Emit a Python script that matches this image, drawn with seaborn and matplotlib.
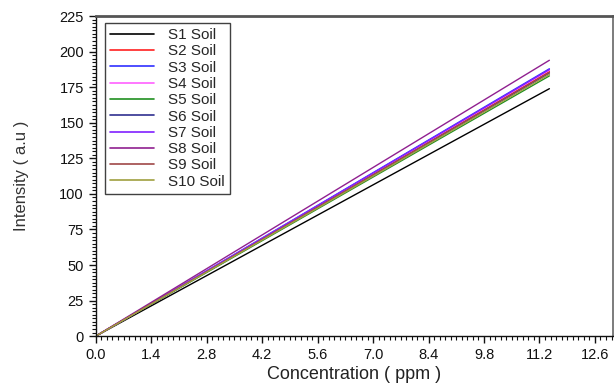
import pandas as pd
import seaborn as sns
import matplotlib.pyplot as plt
from matplotlib.ticker import MultipleLocator

# Calibration lines (intensity at start and end concentration)
samples = ["S1 Soil", "S2 Soil", "S3 Soil", "S4 Soil", "S5 Soil",
           "S6 Soil", "S7 Soil", "S8 Soil", "S9 Soil", "S10 Soil"]
conc = [0.0, 11.45]
start_vals = [0, 0, 0, 0, 0, 0, 0, 0, 0, 0]
end_vals = [174, 186, 188, 187, 183, 185, 187.5, 194, 185.5, 184]
colors = ["#000000", "#ff2020", "#3030ff", "#ff60ff", "#209020",
          "#303090", "#8020ff", "#902090", "#a04848", "#a0a040"]

rows = []
for s, a, b in zip(samples, start_vals, end_vals):
    rows.append({"sample": s, "conc": conc[0], "intensity": a})
    rows.append({"sample": s, "conc": conc[1], "intensity": b})
df = pd.DataFrame(rows)

sns.set_style("ticks")
plt.rcParams["font.family"] = ["Liberation Sans", "DejaVu Sans"]

fig = plt.figure(figsize=(6.14, 3.85), dpi=100)
ax = fig.add_axes([0.156, 0.127, 0.842, 0.831])

sns.lineplot(data=df, x="conc", y="intensity", hue="sample", palette=colors,
             hue_order=samples, linewidth=1.0, ax=ax)

ax.set_xlim(0, 13.05)
ax.set_ylim(0, 225)
ax.xaxis.set_major_locator(MultipleLocator(1.4))
ax.xaxis.set_minor_locator(MultipleLocator(0.14))
ax.yaxis.set_major_locator(MultipleLocator(25))
ax.yaxis.set_minor_locator(MultipleLocator(2.5))
ax.set_xticklabels([f"{v:.1f}" for v in ax.get_xticks()])
ax.tick_params(which="major", length=5, width=1, labelsize=10.5, colors="#111111")
ax.tick_params(which="minor", length=3, width=0.8, colors="#111111")
ax.set_xlim(0, 13.05)

ax.set_xlabel("Concentration ( ppm )", fontsize=13, color="#222222", labelpad=3)
ax.set_ylabel("Intensity ( a.u )", fontsize=12, color="#333333", labelpad=22)

for side in ["left", "bottom"]:
    ax.spines[side].set_color("#111111")
    ax.spines[side].set_linewidth(1.0)
ax.spines["top"].set_color("#555555")
ax.spines["top"].set_linewidth(2.0)
ax.spines["right"].set_color("#666666")
ax.spines["right"].set_linewidth(1.2)

leg = ax.legend(loc="upper left", bbox_to_anchor=(0.018, 0.978), fontsize=11,
                frameon=True, fancybox=False, handlelength=2.9,
                handletextpad=0.9, labelspacing=0.15, borderpad=0.32,
                borderaxespad=0)
leg.get_frame().set_edgecolor("#111111")
leg.get_frame().set_linewidth(1.0)
for line in leg.get_lines():
    line.set_linewidth(1.2)

plt.savefig("out.png", dpi=100)
